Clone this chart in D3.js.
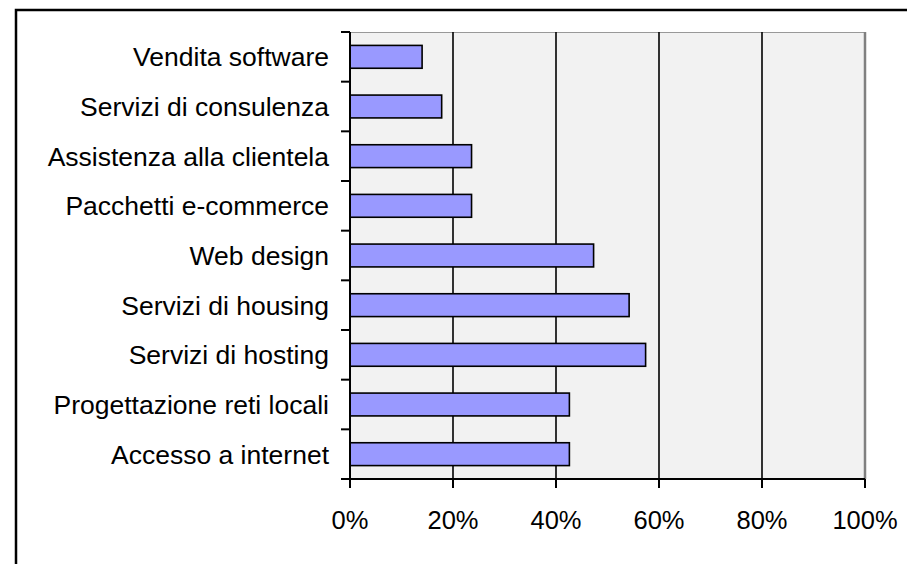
<!DOCTYPE html>
<html>
<head>
<meta charset="utf-8">
<script src="https://cdn.jsdelivr.net/npm/d3@7"></script>
<style>
  body { margin: 0; background: #fff; }
  text { font-family: "Liberation Sans", Arial, sans-serif; }
</style>
</head>
<body>
<div id="chart"></div>
<script>
// Categories from top to bottom and their shares (%)
const categories = [
    "Vendita software",
    "Servizi di consulenza",
    "Assistenza alla clientela",
    "Pacchetti e-commerce",
    "Web design",
    "Servizi di housing",
    "Servizi di hosting",
    "Progettazione reti locali",
    "Accesso a internet"
];
const values = [14, 17.8, 23.6, 23.6, 47.3, 54.2, 57.4, 42.6, 42.6];
const xTicks = [0, 20, 40, 60, 80, 100];

const W = 907, H = 564;
const margin = { top: 32, right: 42, bottom: 85, left: 350 },
    width = W - margin.left - margin.right,
    height = H - margin.top - margin.bottom;

const root = d3.select("#chart")
    .append("svg")
    .attr("width", W)
    .attr("height", H);

// outer frame (right and bottom edges fall outside the picture)
root.append("rect")
    .attr("x", 16).attr("y", 10)
    .attr("width", W + 20).attr("height", H + 20)
    .attr("fill", "none")
    .attr("stroke", "#000")
    .attr("stroke-width", 2.5);

const svg = root.append("g")
    .attr("transform", `translate(${margin.left},${margin.top})`);

const x = d3.scaleLinear().domain([0, 100]).range([0, width]);
const y = d3.scaleBand().domain(categories).range([0, height]).paddingInner(0.54).paddingOuter(0.27);
const yBand = d3.scaleBand().domain(categories).range([0, height]);

// plot background
svg.append("rect")
    .attr("width", width).attr("height", height)
    .attr("fill", "#f2f2f2");
svg.append("line")
    .attr("x1", 0).attr("x2", width).attr("y1", 0.5).attr("y2", 0.5)
    .attr("stroke", "#999").attr("stroke-width", 1.2);
svg.append("line")
    .attr("x1", width).attr("x2", width).attr("y1", 0).attr("y2", height)
    .attr("stroke", "#808080").attr("stroke-width", 2.5);

// vertical gridlines
svg.append("g")
    .selectAll("line")
    .data(xTicks.slice(1, -1))
    .enter()
    .append("line")
    .attr("x1", d => x(d)).attr("x2", d => x(d))
    .attr("y1", 0).attr("y2", height)
    .attr("stroke", "#000").attr("stroke-width", 1.6);

// bars
svg.append("g")
    .selectAll("rect")
    .data(categories)
    .enter()
    .append("rect")
    .attr("x", x(0))
    .attr("y", d => y(d))
    .attr("width", (d, i) => x(values[i]) - x(0))
    .attr("height", y.bandwidth())
    .attr("fill", "#9999ff")
    .attr("stroke", "#000")
    .attr("stroke-width", 1.6);

// y axis: ticks between categories
const yAxis = svg.append("g");
yAxis.append("line")
    .attr("x1", 0).attr("x2", 0).attr("y1", 0).attr("y2", height)
    .attr("stroke", "#000").attr("stroke-width", 2);
yAxis.selectAll("line.tick")
    .data(categories.concat(["end"]))
    .enter()
    .append("line")
    .attr("class", "tick")
    .attr("x1", -9).attr("x2", 0)
    .attr("y1", (d, i) => i < categories.length ? yBand(d) : height)
    .attr("y2", (d, i) => i < categories.length ? yBand(d) : height)
    .attr("stroke", "#000").attr("stroke-width", 2);
yAxis.selectAll("text")
    .data(categories)
    .enter()
    .append("text")
    .attr("x", -21)
    .attr("y", d => yBand(d) + yBand.bandwidth() / 2)
    .attr("dy", "0.36em")
    .attr("text-anchor", "end")
    .style("font-size", "26.5px")
    .text(d => d);

// x axis
const xAxis = svg.append("g").attr("transform", `translate(0,${height})`);
xAxis.append("line")
    .attr("x1", 0).attr("x2", width)
    .attr("stroke", "#000").attr("stroke-width", 2);
xAxis.selectAll("line.tick")
    .data(xTicks)
    .enter()
    .append("line")
    .attr("class", "tick")
    .attr("x1", d => x(d)).attr("x2", d => x(d))
    .attr("y1", 0).attr("y2", 9)
    .attr("stroke", "#000").attr("stroke-width", 2);
xAxis.selectAll("text")
    .data(xTicks)
    .enter()
    .append("text")
    .attr("x", d => x(d))
    .attr("y", 50)
    .attr("text-anchor", "middle")
    .style("font-size", "25.5px")
    .text(d => d + "%");
</script>
</body>
</html>
